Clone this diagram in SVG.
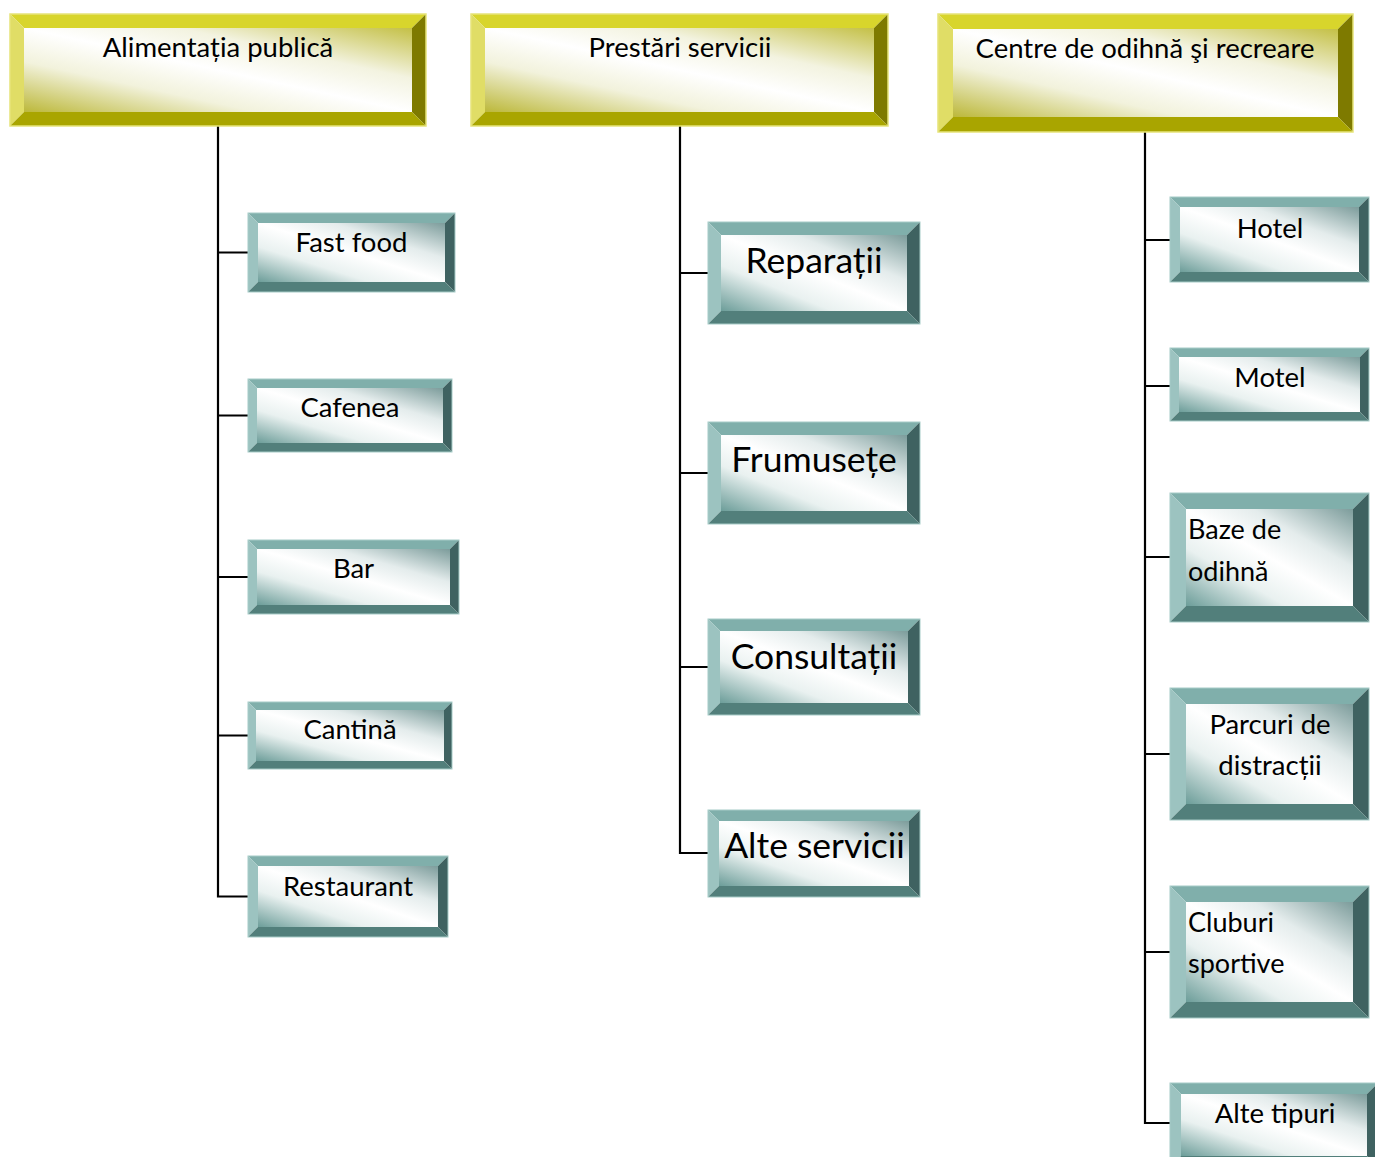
<svg xmlns="http://www.w3.org/2000/svg" width="1375" height="1157" viewBox="0 0 1375 1157">
  <defs>
    <!-- diagonal face shading: tinted corners, white centre -->
    <linearGradient id="faceGold" x1="1" y1="0" x2="0" y2="1">
      <stop offset="0" stop-color="#c4c046"/>
      <stop offset="0.3" stop-color="#f3f3e0"/>
      <stop offset="0.5" stop-color="#ffffff"/>
      <stop offset="0.7" stop-color="#f2f2dc"/>
      <stop offset="1" stop-color="#bcb83a"/>
    </linearGradient>
    <linearGradient id="faceTeal" x1="1" y1="0" x2="0" y2="1">
      <stop offset="0" stop-color="#7c9c9b"/>
      <stop offset="0.3" stop-color="#e4ecec"/>
      <stop offset="0.5" stop-color="#ffffff"/>
      <stop offset="0.7" stop-color="#e9f1f0"/>
      <stop offset="1" stop-color="#6c9d99"/>
    </linearGradient>
  </defs>
  <style>
    .label { font-family: "Lato", "Liberation Sans", "DejaVu Sans", sans-serif; fill: #000; }
    .h { font-size: 27.5px; text-anchor: middle; }
    .s { font-size: 27.5px; text-anchor: middle; }
    .sl { font-size: 27px; text-anchor: start; }
    .m { font-size: 35.5px; text-anchor: middle; }
    .gold .t { fill: #d8d52c; }
    .gold .l { fill: #e0dd66; }
    .gold .r { fill: #7e7a00; }
    .gold .b { fill: #a9a500; }
    .gold .f { fill: url(#faceGold); }
    .gold .o { fill: none; stroke: #e6e47a; stroke-width: 1.5; }
    .teal .t { fill: #80afab; }
    .teal .l { fill: #9cc3c0; }
    .teal .r { fill: #3f6261; }
    .teal .b { fill: #527f7b; }
    .teal .f { fill: url(#faceTeal); }
    .teal .o { fill: none; stroke: #a6cbc7; stroke-width: 1; }
    .wire { fill: none; stroke: #000; stroke-width: 2.2; }
  </style>

  <!-- connectors -->
  <g id="connectors">
    <path class="wire" d="M218,126 V896.5 H248 M218,252.5 H248 M218,415.5 H248 M218,577 H248 M218,735.5 H248"/>
    <path class="wire" d="M680,126 V853 H708 M680,273 H708 M680,473 H708 M680,667 H708"/>
    <path class="wire" d="M1145,132 V1123 H1170 M1145,240 H1170 M1145,386 H1170 M1145,557 H1170 M1145,754 H1170 M1145,952 H1170"/>
  </g>

  <!-- header: Alimentația publică -->
  <g id="alimentatia" class="gold">
    <polygon class="t" points="10,14 426,14 412,28 24,28"/>
    <polygon class="l" points="10,14 24,28 24,112 10,126"/>
    <polygon class="r" points="426,14 426,126 412,112 412,28"/>
    <polygon class="b" points="10,126 426,126 412,112 24,112"/>
    <rect class="f" x="24" y="28" width="388" height="84"/>
    <rect class="o" x="10" y="14" width="416" height="112"/>
    <text class="label h" x="218" y="57">Alimentația publică</text>
  </g>

  <!-- header: Prestări servicii -->
  <g id="prestari" class="gold">
    <polygon class="t" points="471,14 888,14 874,28 485,28"/>
    <polygon class="l" points="471,14 485,28 485,112 471,126"/>
    <polygon class="r" points="888,14 888,126 874,112 874,28"/>
    <polygon class="b" points="471,126 888,126 874,112 485,112"/>
    <rect class="f" x="485" y="28" width="389" height="84"/>
    <rect class="o" x="471" y="14" width="417" height="112"/>
    <text class="label h" x="680" y="57">Prestări servicii</text>
  </g>

  <!-- header: Centre de odihnă şi recreare -->
  <g id="centre" class="gold">
    <polygon class="t" points="938,14 1353,14 1338,29 953,29"/>
    <polygon class="l" points="938,14 953,29 953,117 938,132"/>
    <polygon class="r" points="1353,14 1353,132 1338,117 1338,29"/>
    <polygon class="b" points="938,132 1353,132 1338,117 953,117"/>
    <rect class="f" x="953" y="29" width="385" height="88"/>
    <rect class="o" x="938" y="14" width="415" height="118"/>
    <text class="label h" x="1145" y="58">Centre de odihnă şi recreare</text>
  </g>

  <!-- left column -->
  <g id="fast-food" class="teal" transform="translate(248,213)">
    <polygon class="t" points="0,0 207,0 197,10 10,10"/>
    <polygon class="l" points="0,0 10,10 10,69 0,79"/>
    <polygon class="r" points="207,0 207,79 197,69 197,10"/>
    <polygon class="b" points="0,79 207,79 197,69 10,69"/>
    <rect class="f" x="10" y="10" width="187" height="59"/>
    <rect class="o" x="0" y="0" width="207" height="79"/>
    <text class="label s" x="103.5" y="39">Fast food</text>
  </g>

  <g id="cafenea" class="teal" transform="translate(248,379)">
    <polygon class="t" points="0,0 204,0 195,9 9,9"/>
    <polygon class="l" points="0,0 9,9 9,64 0,73"/>
    <polygon class="r" points="204,0 204,73 195,64 195,9"/>
    <polygon class="b" points="0,73 204,73 195,64 9,64"/>
    <rect class="f" x="9" y="9" width="186" height="55"/>
    <rect class="o" x="0" y="0" width="204" height="73"/>
    <text class="label s" x="102" y="38">Cafenea</text>
  </g>

  <g id="bar" class="teal" transform="translate(248,540)">
    <polygon class="t" points="0,0 211,0 202,9 9,9"/>
    <polygon class="l" points="0,0 9,9 9,65 0,74"/>
    <polygon class="r" points="211,0 211,74 202,65 202,9"/>
    <polygon class="b" points="0,74 211,74 202,65 9,65"/>
    <rect class="f" x="9" y="9" width="193" height="56"/>
    <rect class="o" x="0" y="0" width="211" height="74"/>
    <text class="label s" x="105.5" y="38">Bar</text>
  </g>

  <g id="cantina" class="teal" transform="translate(248,702)">
    <polygon class="t" points="0,0 204,0 196,8 8,8"/>
    <polygon class="l" points="0,0 8,8 8,59 0,67"/>
    <polygon class="r" points="204,0 204,67 196,59 196,8"/>
    <polygon class="b" points="0,67 204,67 196,59 8,59"/>
    <rect class="f" x="8" y="8" width="188" height="51"/>
    <rect class="o" x="0" y="0" width="204" height="67"/>
    <text class="label s" x="102" y="37">Cantină</text>
  </g>

  <g id="restaurant" class="teal" transform="translate(248,856)">
    <polygon class="t" points="0,0 200,0 190,10 10,10"/>
    <polygon class="l" points="0,0 10,10 10,71 0,81"/>
    <polygon class="r" points="200,0 200,81 190,71 190,10"/>
    <polygon class="b" points="0,81 200,81 190,71 10,71"/>
    <rect class="f" x="10" y="10" width="180" height="61"/>
    <rect class="o" x="0" y="0" width="200" height="81"/>
    <text class="label s" x="100" y="40">Restaurant</text>
  </g>

  <!-- middle column -->
  <g id="reparatii" class="teal" transform="translate(708,222)">
    <polygon class="t" points="0,0 212,0 199,13 13,13"/>
    <polygon class="l" points="0,0 13,13 13,89 0,102"/>
    <polygon class="r" points="212,0 212,102 199,89 199,13"/>
    <polygon class="b" points="0,102 212,102 199,89 13,89"/>
    <rect class="f" x="13" y="13" width="186" height="76"/>
    <rect class="o" x="0" y="0" width="212" height="102"/>
    <text class="label m" x="106" y="51">Reparații</text>
  </g>

  <g id="frumusete" class="teal" transform="translate(708,422)">
    <polygon class="t" points="0,0 212,0 199,13 13,13"/>
    <polygon class="l" points="0,0 13,13 13,89 0,102"/>
    <polygon class="r" points="212,0 212,102 199,89 199,13"/>
    <polygon class="b" points="0,102 212,102 199,89 13,89"/>
    <rect class="f" x="13" y="13" width="186" height="76"/>
    <rect class="o" x="0" y="0" width="212" height="102"/>
    <text class="label m" x="106" y="50">Frumusețe</text>
  </g>

  <g id="consultatii" class="teal" transform="translate(708,619)">
    <polygon class="t" points="0,0 212,0 200,12 12,12"/>
    <polygon class="l" points="0,0 12,12 12,84 0,96"/>
    <polygon class="r" points="212,0 212,96 200,84 200,12"/>
    <polygon class="b" points="0,96 212,96 200,84 12,84"/>
    <rect class="f" x="12" y="12" width="188" height="72"/>
    <rect class="o" x="0" y="0" width="212" height="96"/>
    <text class="label m" x="106" y="50">Consultații</text>
  </g>

  <g id="alte-servicii" class="teal" transform="translate(708,810)">
    <polygon class="t" points="0,0 212,0 201,11 11,11"/>
    <polygon class="l" points="0,0 11,11 11,76 0,87"/>
    <polygon class="r" points="212,0 212,87 201,76 201,11"/>
    <polygon class="b" points="0,87 212,87 201,76 11,76"/>
    <rect class="f" x="11" y="11" width="190" height="65"/>
    <rect class="o" x="0" y="0" width="212" height="87"/>
    <text class="label m" x="106.5" y="48">Alte servicii</text>
  </g>

  <!-- right column -->
  <g id="hotel" class="teal" transform="translate(1170,197)">
    <polygon class="t" points="0,0 199,0 189,10 10,10"/>
    <polygon class="l" points="0,0 10,10 10,75 0,85"/>
    <polygon class="r" points="199,0 199,85 189,75 189,10"/>
    <polygon class="b" points="0,85 199,85 189,75 10,75"/>
    <rect class="f" x="10" y="10" width="179" height="65"/>
    <rect class="o" x="0" y="0" width="199" height="85"/>
    <text class="label s" x="100" y="41">Hotel</text>
  </g>

  <g id="motel" class="teal" transform="translate(1170,348)">
    <polygon class="t" points="0,0 199,0 190,9 9,9"/>
    <polygon class="l" points="0,0 9,9 9,64 0,73"/>
    <polygon class="r" points="199,0 199,73 190,64 190,9"/>
    <polygon class="b" points="0,73 199,73 190,64 9,64"/>
    <rect class="f" x="9" y="9" width="181" height="55"/>
    <rect class="o" x="0" y="0" width="199" height="73"/>
    <text class="label s" x="100" y="39">Motel</text>
  </g>

  <g id="baze-de-odihna" class="teal" transform="translate(1170,493)">
    <polygon class="t" points="0,0 199,0 183,16 16,16"/>
    <polygon class="l" points="0,0 16,16 16,113 0,129"/>
    <polygon class="r" points="199,0 199,129 183,113 183,16"/>
    <polygon class="b" points="0,129 199,129 183,113 16,113"/>
    <rect class="f" x="16" y="16" width="167" height="97"/>
    <rect class="o" x="0" y="0" width="199" height="129"/>
    <text class="label sl" x="18" y="46">Baze de</text>
    <text class="label sl" x="18" y="88">odihnă</text>
  </g>

  <g id="parcuri-de-distractii" class="teal" transform="translate(1170,688)">
    <polygon class="t" points="0,0 199,0 183,16 16,16"/>
    <polygon class="l" points="0,0 16,16 16,116 0,132"/>
    <polygon class="r" points="199,0 199,132 183,116 183,16"/>
    <polygon class="b" points="0,132 199,132 183,116 16,116"/>
    <rect class="f" x="16" y="16" width="167" height="100"/>
    <rect class="o" x="0" y="0" width="199" height="132"/>
    <text class="label s" x="100" y="46">Parcuri de</text>
    <text class="label s" x="100" y="87">distracții</text>
  </g>

  <g id="cluburi-sportive" class="teal" transform="translate(1170,886)">
    <polygon class="t" points="0,0 199,0 183,16 16,16"/>
    <polygon class="l" points="0,0 16,16 16,116 0,132"/>
    <polygon class="r" points="199,0 199,132 183,116 183,16"/>
    <polygon class="b" points="0,132 199,132 183,116 16,116"/>
    <rect class="f" x="16" y="16" width="167" height="100"/>
    <rect class="o" x="0" y="0" width="199" height="132"/>
    <text class="label sl" x="18" y="46">Cluburi</text>
    <text class="label sl" x="18" y="87">sportive</text>
  </g>

  <g id="alte-tipuri" class="teal" transform="translate(1170,1083)">
    <polygon class="t" points="0,0 208,0 197,11 11,11"/>
    <polygon class="l" points="0,0 11,11 11,73 0,84"/>
    <polygon class="r" points="208,0 208,84 197,73 197,11"/>
    <polygon class="b" points="0,84 208,84 197,73 11,73"/>
    <rect class="f" x="11" y="11" width="186" height="62"/>
    <rect class="o" x="0" y="0" width="208" height="84"/>
    <text class="label s" x="105" y="40">Alte tipuri</text>
  </g>
</svg>
